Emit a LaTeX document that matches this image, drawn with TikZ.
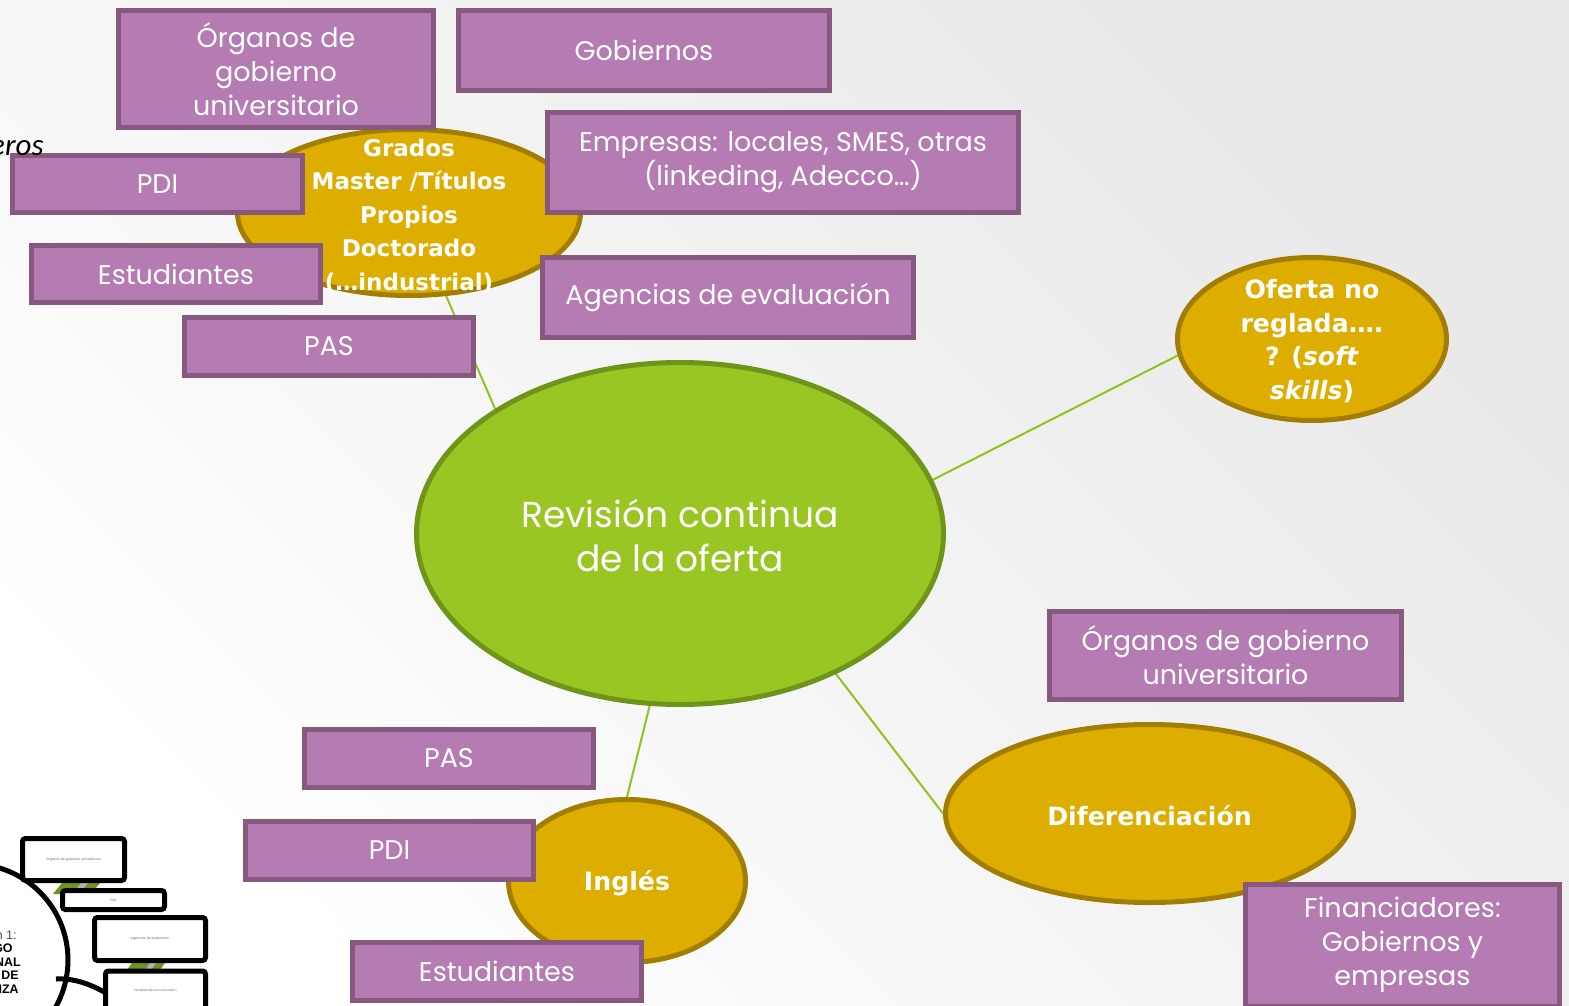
\documentclass[tikz,border=0pt]{standalone}
\usepackage{fontspec}
\setmainfont{Poppins}
\newfontfamily\ellfont{DejaVu Sans}
\newfontfamily\thfont{Liberation Sans}
\newfontfamily\calfont{Carlito}
\usetikzlibrary{shapes.geometric}
\definecolor{pfill}{HTML}{B57BB3}
\definecolor{pdraw}{HTML}{87597F}
\definecolor{gfill}{HTML}{DDAD00}
\definecolor{gdraw}{HTML}{A17D00}
\definecolor{cfill}{HTML}{9AC623}
\definecolor{cdraw}{HTML}{6E951A}
\definecolor{linkc}{HTML}{8FC31F}
\pgfdeclarelayer{bg}
\pgfsetlayers{bg,main}
\begin{document}
\begin{tikzpicture}[x=0.5pt,y=-0.5pt,
 pbox/.style={draw=pdraw, fill=pfill, line width=2.5pt, text=white, font=\fontsize{13.5}{17}\selectfont, align=center, inner sep=0pt},
 gell/.style={ellipse, draw=gdraw, fill=gfill, line width=2.5pt, inner sep=0pt},
 etext/.style={text=white, font=\ellfont\bfseries\fontsize{12.6}{16.8}\selectfont, align=center, inner sep=0pt},
 lnk/.style={draw=linkc, line width=1pt},
 tbox/.style={draw=black, fill=white, line width=2.5pt, rounded corners=1.5pt, font=\fontsize{1.6}{2}\selectfont, text=black!60, inner sep=0pt},
 ttext/.style={font=\thfont\bfseries\fontsize{6.2}{7}\selectfont, anchor=east, inner sep=0pt},
]
\useasboundingbox (0,0) rectangle (1569,1006);
\clip (0,0) rectangle (1569,1006);
\begin{pgfonlayer}{bg}
\shade[top color=black!9, bottom color=white, shading angle=-45] (0,0) rectangle (1569,1006);
\end{pgfonlayer}

% ellipses
\node[ellipse, draw=cdraw, fill=cfill, line width=2.5pt, inner sep=0pt, minimum width=263.5pt, minimum height=171pt] (cen) at (680,533.5) {};
\node[gell, minimum width=171.5pt, minimum height=83pt] (gra) at (409,212.5) {};
\node[gell, minimum width=134.5pt, minimum height=81.5pt] (ofe) at (1312,339) {};
\node[gell, minimum width=204pt, minimum height=89pt] (dif) at (1149.5,813.5) {};
\node[gell, minimum width=118.5pt, minimum height=81.5pt] (ing) at (627,881) {};

% connectors
\begin{pgfonlayer}{bg}
\draw[lnk] (cen.146.8) -- (gra.-66.4);
\draw[lnk] (cen.12.7) -- (ofe.-173.2);
\draw[lnk] (cen.-42.2) -- (dif.180);
\draw[lnk] (cen.-100.4) -- (ing.90);
\end{pgfonlayer}

% purple boxes
\node[pbox, minimum width=157.5pt, minimum height=58.5pt] (orgA) at (276,69) {Órganos de\\gobierno\\universitario};
\node[pbox, minimum width=185.5pt, minimum height=40pt] (gob) at (644,50.5) {Gobiernos};
\node[pbox, minimum width=235.5pt, minimum height=50pt] (emp) at (783,162.5) {Empresas: locales, SMES, otras\\(linkeding, Adecco…)};
\node[pbox, minimum width=145pt, minimum height=28.5pt] (pdiA) at (157.5,184) {PDI};
\node[pbox, minimum width=144.5pt, minimum height=28.5pt] (estA) at (176,274) {Estudiantes};
\node[pbox, minimum width=185.5pt, minimum height=40pt] (agen) at (728,297.5) {Agencias de evaluación};
\node[pbox, minimum width=144.5pt, minimum height=29pt] (pasA) at (329,346.5) {PAS};
\node[pbox, minimum width=176pt, minimum height=44pt] (orgB) at (1225.5,655.5) {Órganos de gobierno\\universitario};
\node[pbox, minimum width=144.5pt, minimum height=29pt] (pasB) at (449,758.5) {PAS};
\node[pbox, minimum width=144pt, minimum height=29pt] (pdiB) at (389.5,850.5) {PDI};
\node[pbox, minimum width=144.5pt, minimum height=29pt] (estB) at (497,971.5) {Estudiantes};
\node[pbox, minimum width=157pt, minimum height=61pt] (fin) at (1402.5,945) {Financiadores:\\Gobiernos y\\empresas};

% ellipse texts
\node[text=white, font=\fontsize{18}{22}\selectfont, align=center, inner sep=0pt] (cenT) at (680,535) {Revisión continua\\de la oferta};
\node[etext, font=\ellfont\bfseries\fontsize{11.5}{16.8}\selectfont] (graT) at (409,216) {Grados\\Master /Títulos\\Propios\\Doctorado\\(…industrial)};
\node[etext] (ofeT) at (1312,341) {Oferta no\\reglada….\\? (\textit{soft}\\\textit{skills})};
\node[etext] (difT) at (1149.5,816) {Diferenciación};
\node[etext] (ingT) at (627,883) {Inglés};

% cut-off text at left
\node[font=\calfont\itshape\fontsize{15.5}{17}\selectfont, anchor=east, inner sep=0pt] (eros) at (44,148) {eros};

% thumbnail bottom-left
\fill[cdraw] (53,894) -- (62,883) -- (100,883) -- (91,894) -- cycle;
\fill[black!30] (72,894) -- (81,883) -- (88,883) -- (79,894) -- cycle;
\fill[cdraw] (127,970) -- (134,960) -- (167,960) -- (160,970) -- cycle;
\fill[black!30] (145,970) -- (152,960) -- (158,960) -- (151,970) -- cycle;
\node[circle, draw=black, fill=white, line width=2.5pt, minimum size=96pt, inner sep=0pt] (thc) at (-28,960) {};
\draw[line width=2.5pt] (56,979) .. controls (74,978) and (90,984) .. (106,993);
\node[tbox, minimum width=51pt, minimum height=21pt] (ta) at (73.5,859.5) {Órganos de gobierno universitario};
\node[tbox, minimum width=51pt, minimum height=9.5pt] (tb) at (113.5,900) {PAS};
\node[tbox, minimum width=55.5pt, minimum height=21.5pt] (tc) at (150,939) {Agencias de evaluación};
\node[tbox, minimum width=50pt, minimum height=19pt] (td) at (155.5,990) {Estudios de comunicación};
\node[ttext, font=\thfont\fontsize{6.2}{7}\selectfont, text=black!70] (t1) at (17,935) {n 1:};
\node[ttext] (t2) at (13,948) {GO};
\node[ttext] (t3) at (21,962) {ONAL};
\node[ttext] (t4) at (19,975) {O DE};
\node[ttext] (t5) at (19,989) {NZA};
\end{tikzpicture}
\end{document}
